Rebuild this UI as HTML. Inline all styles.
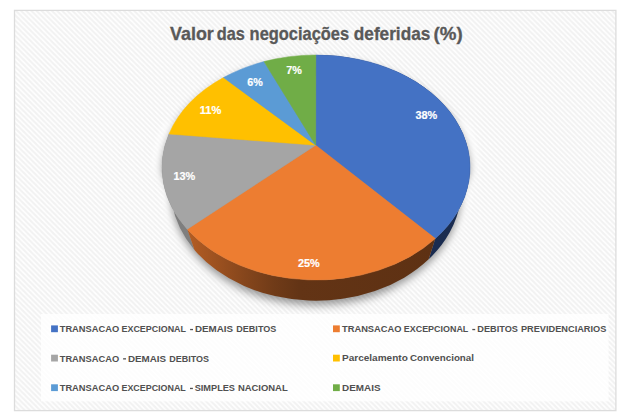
<!DOCTYPE html>
<html><head><meta charset="utf-8"><title>Valor das negociações deferidas (%)</title>
<style>
html,body{margin:0;padding:0;background:#fff;}
body{width:625px;height:420px;overflow:hidden;position:relative;font-family:"Liberation Sans",sans-serif;}
svg{position:absolute;left:0;top:0;display:block}
text{font-family:"Liberation Sans",sans-serif;font-weight:bold}
</style></head><body>
<svg width="625" height="420" viewBox="0 0 625 420">
<defs>
<pattern id="hatch" width="5.14" height="5.14" patternUnits="userSpaceOnUse">
<rect width="5.14" height="5.14" fill="#ffffff"/>
<path d="M-1.285 -1.285L6.425 6.425M-1.285 3.855L1.285 6.425M3.855 -1.285L6.425 1.285" stroke="#f2f2f2" stroke-width="2.0"/>
</pattern>
<filter id="sh" x="-10%" y="-10%" width="120%" height="130%"><feGaussianBlur stdDeviation="4"/></filter>
<filter id="halo" x="-10%" y="-10%" width="120%" height="130%"><feGaussianBlur stdDeviation="2.5"/></filter>
<linearGradient id="ow" gradientUnits="userSpaceOnUse" x1="187" y1="0" x2="436" y2="0">
<stop offset="0" stop-color="#B45D23"/><stop offset="0.11" stop-color="#9E5220"/><stop offset="0.23" stop-color="#86461C"/><stop offset="0.35" stop-color="#703B18"/><stop offset="0.45" stop-color="#633415"/><stop offset="1" stop-color="#5E3113"/>
</linearGradient>
</defs>
<rect x="14.5" y="10.4" width="601.4" height="400.2" fill="url(#hatch)" stroke="#dcdcdc" stroke-width="1.3"/>
<rect x="41" y="314" width="567.6" height="87.4" fill="#ffffff" fill-opacity="0.8"/>
<g font-size="17.8" fill="#595959" stroke="#595959" stroke-width="0.3"><text x="170.0" y="39.8" textLength="43.8" lengthAdjust="spacingAndGlyphs">Valor</text><text x="216.8" y="39.8" textLength="28.1" lengthAdjust="spacingAndGlyphs">das</text><text x="249.6" y="39.8" textLength="99.5" lengthAdjust="spacingAndGlyphs">negociações</text><text x="353.8" y="39.8" textLength="76.5" lengthAdjust="spacingAndGlyphs">deferidas</text><text x="433.6" y="39.8" textLength="29.1" lengthAdjust="spacingAndGlyphs">(%)</text></g>
<path d="M170.81 130A154.0 112.5 0 0 0 162.0 167.5L170.62 188.2A145.38 112.5 0 0 0 232.62 280.35M461.19 130A154.0 112.5 0 0 1 470.0 167.5L461.38 188.2A145.38 112.5 0 0 1 399.38 280.35" fill="none" stroke="#ffffff" stroke-width="17" stroke-opacity="0.75" stroke-linecap="round" filter="url(#halo)"/>
<path d="M162.0 167.5A154.0 112.5 0 0 1 470.0 167.5L461.38 188.2A145.38 112.5 0 0 1 170.62 188.2Z" fill="#000" fill-opacity="0.4" filter="url(#sh)" transform="translate(0,4.5)"/>
<path d="M187.25 229.23A154.0 112.5 0 0 1 168.98 134.02L177.21 154.72A145.38 112.5 0 0 0 194.46 249.93Z" fill="#7E7E7E"/>
<path d="M315.80 55.00A154.0 112.5 0 0 1 435.33 238.62L428.64 259.32A145.38 112.5 0 0 0 315.81 75.70Z" fill="#1A2C50"/>
<path d="M435.33 238.62A154.0 112.5 0 0 1 187.25 229.23L194.46 249.93A145.38 112.5 0 0 0 428.64 259.32Z" fill="url(#ow)"/>
<path d="M315.70 145.20L315.80 55.00A154.0 112.5 0 0 1 435.33 238.62Z" fill="#4472C4" stroke="#4472C4" stroke-width="0.5" stroke-linejoin="round"/>
<path d="M315.70 145.20L435.33 238.62A154.0 112.5 0 0 1 187.25 229.23Z" fill="#ED7D31" stroke="#ED7D31" stroke-width="0.5" stroke-linejoin="round"/>
<path d="M315.70 145.20L187.25 229.23A154.0 112.5 0 0 1 168.98 134.02Z" fill="#A5A5A5" stroke="#A5A5A5" stroke-width="0.5" stroke-linejoin="round"/>
<path d="M315.70 145.20L168.98 134.02A154.0 112.5 0 0 1 223.47 77.57Z" fill="#FFC000" stroke="#FFC000" stroke-width="0.5" stroke-linejoin="round"/>
<path d="M315.70 145.20L223.47 77.57A154.0 112.5 0 0 1 264.00 61.61Z" fill="#5B9BD5" stroke="#5B9BD5" stroke-width="0.5" stroke-linejoin="round"/>
<path d="M315.70 145.20L264.00 61.61A154.0 112.5 0 0 1 315.80 55.00Z" fill="#70AD47" stroke="#70AD47" stroke-width="0.5" stroke-linejoin="round"/>
<g font-size="11.5" fill="#ffffff" stroke="#ffffff" stroke-width="0.2">
<text x="415.5" y="118.7" textLength="21.8" lengthAdjust="spacingAndGlyphs">38%</text>
<text x="298.0" y="267.4" textLength="21.8" lengthAdjust="spacingAndGlyphs">25%</text>
<text x="173.5" y="180.4" textLength="21.8" lengthAdjust="spacingAndGlyphs">13%</text>
<text x="199.7" y="113.7" textLength="21.6" lengthAdjust="spacingAndGlyphs">11%</text>
<text x="247.3" y="85.7" textLength="15.5" lengthAdjust="spacingAndGlyphs">6%</text>
<text x="286.3" y="74.3" textLength="15.6" lengthAdjust="spacingAndGlyphs">7%</text>
</g>
<g font-size="9.6" fill="#505050">
<rect x="51.1" y="325.4" width="6.8" height="6.8" fill="#4472C4"/>
<text x="59.7" y="332.2" textLength="59.5" lengthAdjust="spacingAndGlyphs">TRANSACAO</text>
<text x="121.5" y="332.2" textLength="64.5" lengthAdjust="spacingAndGlyphs">EXCEPCIONAL</text>
<rect x="190.1" y="328.9" width="2.9" height="1.3" fill="#505050"/>
<text x="195.0" y="332.2" textLength="38.1" lengthAdjust="spacingAndGlyphs">DEMAIS</text>
<text x="236.3" y="332.2" textLength="40.0" lengthAdjust="spacingAndGlyphs">DEBITOS</text>
<rect x="51.1" y="354.7" width="6.8" height="6.8" fill="#A5A5A5"/>
<text x="59.7" y="361.5" textLength="59.5" lengthAdjust="spacingAndGlyphs">TRANSACAO</text>
<rect x="123.1" y="358.2" width="2.9" height="1.3" fill="#505050"/>
<text x="128.0" y="361.5" textLength="38.1" lengthAdjust="spacingAndGlyphs">DEMAIS</text>
<text x="169.3" y="361.5" textLength="39.8" lengthAdjust="spacingAndGlyphs">DEBITOS</text>
<rect x="51.1" y="384.3" width="6.8" height="6.8" fill="#5B9BD5"/>
<text x="59.7" y="391.1" textLength="59.5" lengthAdjust="spacingAndGlyphs">TRANSACAO</text>
<text x="121.5" y="391.1" textLength="64.3" lengthAdjust="spacingAndGlyphs">EXCEPCIONAL</text>
<rect x="190.0" y="387.8" width="2.9" height="1.3" fill="#505050"/>
<text x="194.7" y="391.1" textLength="40.3" lengthAdjust="spacingAndGlyphs">SIMPLES</text>
<text x="237.9" y="391.1" textLength="49.8" lengthAdjust="spacingAndGlyphs">NACIONAL</text>
<rect x="333.0" y="325.4" width="6.8" height="6.8" fill="#ED7D31"/>
<text x="342.0" y="332.2" textLength="59.5" lengthAdjust="spacingAndGlyphs">TRANSACAO</text>
<text x="403.8" y="332.2" textLength="64.5" lengthAdjust="spacingAndGlyphs">EXCEPCIONAL</text>
<rect x="472.3" y="328.9" width="2.9" height="1.3" fill="#505050"/>
<text x="477.3" y="332.2" textLength="40.6" lengthAdjust="spacingAndGlyphs">DEBITOS</text>
<text x="520.9" y="332.2" textLength="85.5" lengthAdjust="spacingAndGlyphs">PREVIDENCIARIOS</text>
<rect x="333.0" y="354.7" width="6.8" height="6.8" fill="#FFC000"/>
<text x="342.0" y="361.0" textLength="65.8" lengthAdjust="spacingAndGlyphs">Parcelamento</text>
<text x="409.9" y="361.0" textLength="64.1" lengthAdjust="spacingAndGlyphs">Convencional</text>
<rect x="333.0" y="384.3" width="6.8" height="6.8" fill="#70AD47"/>
<text x="342.1" y="391.1" textLength="38.4" lengthAdjust="spacingAndGlyphs">DEMAIS</text>
</g>
</svg>
</body></html>
